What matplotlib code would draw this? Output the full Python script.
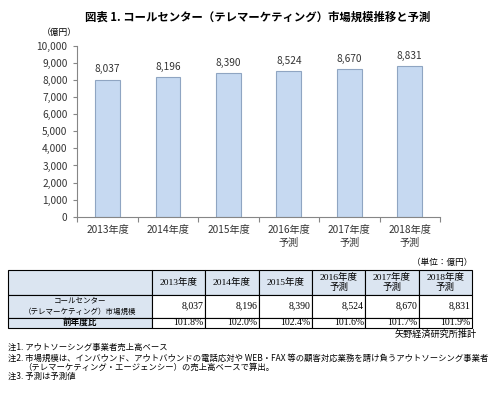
import matplotlib
matplotlib.use("Agg")
import matplotlib.pyplot as plt
from matplotlib.patches import Rectangle
from matplotlib.ticker import FuncFormatter, FixedLocator

plt.rcParams['font.family'] = ['Noto Sans CJK JP', 'DejaVu Sans']

# ---- data ----
categories = ["2013年度", "2014年度", "2015年度", "2016年度\n予測", "2017年度\n予測", "2018年度\n予測"]
market_size = [8037, 8196, 8390, 8524, 8670, 8831]
yoy_labels = ["101.8%", "102.0%", "102.4%", "101.6%", "101.7%", "101.9%"]
y_ticks = list(range(0, 10001, 1000))

title = "図表 1. コールセンター（テレマーケティング）市場規模推移と予測"
unit_chart = "（億円）"
unit_table = "（単位：億円）"
row_label_size = "コールセンター\n（テレマーケティング）市場規模"
row_label_yoy = "前年度比"
source = "矢野経済研究所推計"
notes = [
    "注1. アウトソーシング事業者売上高ベース",
    "注2. 市場規模は、インバウンド、アウトバウンドの電話応対や WEB・FAX 等の顧客対応業務を請け負うアウトソーシング事業者",
    "（テレマーケティング・エージェンシー）の売上高ベースで算出。",
    "注3. 予測は予測値",
]

W, H = 500, 394
fig = plt.figure(figsize=(W / 100, H / 100), dpi=100)
fig.patch.set_facecolor("white")

# overlay in pixel coordinates for texts and table
lay = fig.add_axes([0, 0, 1, 1])
lay.set_xlim(0, W)
lay.set_ylim(H, 0)
lay.set_axis_off()

lay.text(258, 17, title, ha="center", va="center", fontsize=8.2, fontweight="bold")
lay.text(59, 32.5, unit_chart, ha="center", va="center", fontsize=6.3)

# ---- chart ----
x0, x1, ytop, ybot = 77.3, 440.0, 46.0, 216.7
ax = fig.add_axes([x0 / W, (H - ybot) / H, (x1 - x0) / W, (ybot - ytop) / H])
xs = list(range(len(categories)))
ax.bar(xs, market_size, width=0.41, color="#c6d9f1", edgecolor="#8fa5c2", linewidth=0.8, zorder=2)
for xi, v in zip(xs, market_size):
    ax.annotate(f"{v:,}", (xi, v), xytext=(0, 7.3), textcoords="offset points",
                ha="center", va="center", fontsize=7.3, color="#333333")
ax.set_xlim(-0.5, len(categories) - 0.5)
ax.set_ylim(0, 10000)
ax.set_yticks(y_ticks)
ax.yaxis.set_major_formatter(FuncFormatter(lambda v, p: f"{int(v):,}"))
ax.set_xticks(xs)
ax.set_xticklabels(categories, linespacing=1.35)
ax.xaxis.set_minor_locator(FixedLocator([i - 0.5 for i in range(len(categories) + 1)]))
for s in ["top", "right"]:
    ax.spines[s].set_visible(False)
for s in ["left", "bottom"]:
    ax.spines[s].set_color("#868686")
    ax.spines[s].set_linewidth(0.8)
ax.tick_params(axis="y", direction="out", length=3, width=0.8, color="#868686",
               labelsize=7.3, pad=4, labelcolor="#333333")
ax.tick_params(axis="x", which="major", length=0, labelsize=7.3, pad=6, labelcolor="#333333")
ax.tick_params(axis="x", which="minor", direction="out", length=3.5, width=0.8, color="#868686")
ax.patch.set_alpha(0)

# ---- table ----
col_edges = [8, 152] + [152 + (472 - 152) * (i + 1) / 6 for i in range(6)]
row_edges = [269.5, 294.5, 318, 327.5]
fill = "#dbe5f1"
tfam = ["Liberation Serif", "Noto Sans CJK JP"]
for r in range(3):
    for c in range(7):
        xa, xb = col_edges[c], col_edges[c + 1]
        ya, yb = row_edges[r], row_edges[r + 1]
        fc = fill if (r == 0 or c == 0) else "white"
        lay.add_patch(Rectangle((xa, ya), xb - xa, yb - ya, facecolor=fc,
                                edgecolor="black", linewidth=0.8))

for c, lab in enumerate(categories):
    xc = (col_edges[c + 1] + col_edges[c + 2]) / 2
    lay.text(xc, (row_edges[0] + row_edges[1]) / 2 + 0.5, lab, ha="center", va="center",
             fontsize=6.8, family=tfam, linespacing=1.25)
    xr = col_edges[c + 2] - 1.5
    lay.text(xr, (row_edges[1] + row_edges[2]) / 2, f"{market_size[c]:,}", ha="right",
             va="center", fontsize=7, family=tfam)
    lay.text(xr, (row_edges[2] + row_edges[3]) / 2, yoy_labels[c], ha="right",
             va="center", fontsize=7, family=tfam)

lay.text((col_edges[0] + col_edges[1]) / 2, (row_edges[1] + row_edges[2]) / 2, row_label_size,
         ha="center", va="center", fontsize=5.4, linespacing=1.45)
lay.text((col_edges[0] + col_edges[1]) / 2, (row_edges[2] + row_edges[3]) / 2, row_label_yoy,
         ha="center", va="center", fontsize=6.2, fontweight="bold")

lay.text(472, 262, unit_table, ha="right", va="center", fontsize=6.2)
lay.text(477, 334.5, source, ha="right", va="center", fontsize=6.6)

note_y = [347.7, 358.2, 367.7, 376.7]
note_x = [8, 8, 23, 8]
for t, nx, ny in zip(notes, note_x, note_y):
    lay.text(nx, ny, t, ha="left", va="center", fontsize=6.0)

fig.savefig("out.png", dpi=100, facecolor="white")
